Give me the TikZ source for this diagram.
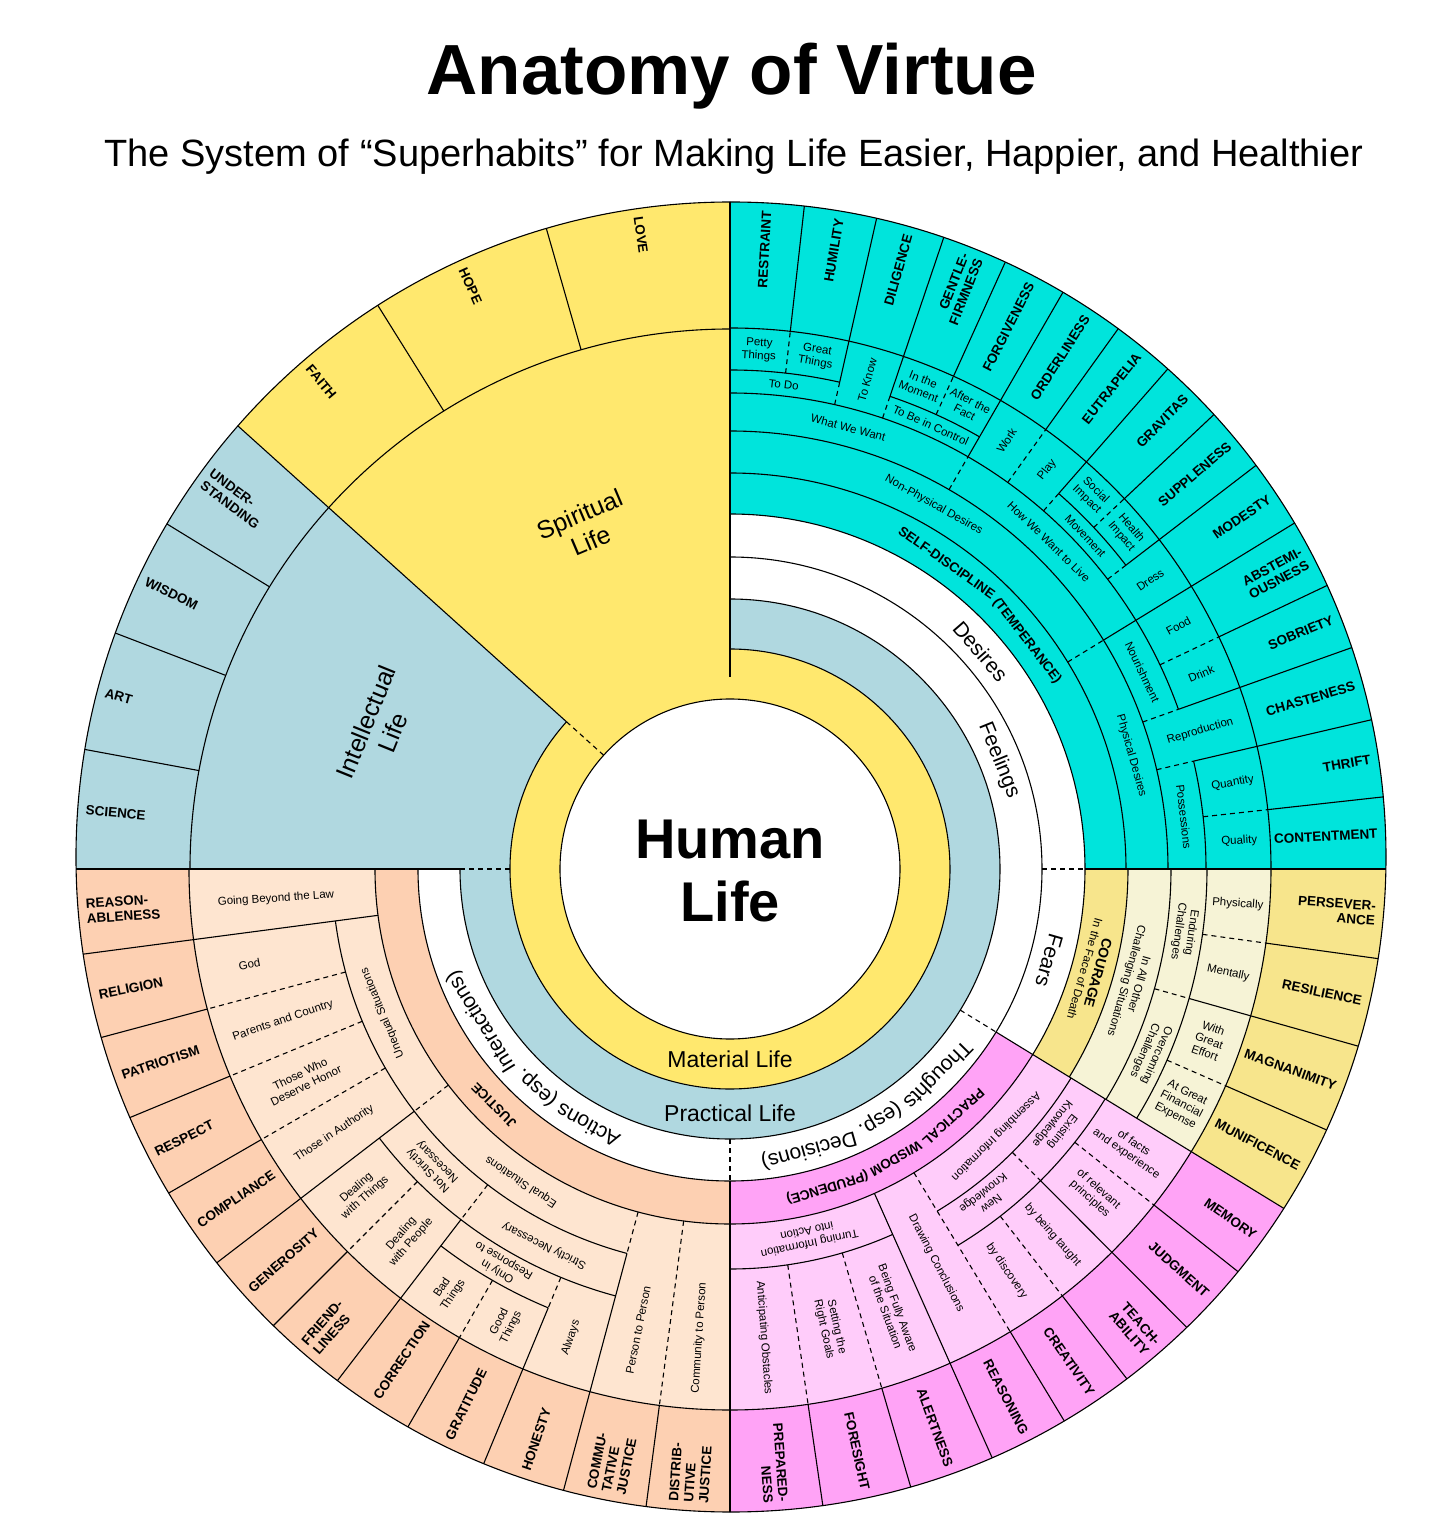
\documentclass[tikz,border=0pt]{standalone}
\usepackage{fontspec}
\setmainfont{Liberation Sans}

\definecolor{tealv}{RGB}{0,228,220}
\definecolor{yelv}{RGB}{255,232,110}
\definecolor{bluev}{RGB}{176,216,224}
\definecolor{courd}{RGB}{247,229,140}
\definecolor{courl}{RGB}{246,243,214}
\definecolor{prud}{RGB}{255,163,246}
\definecolor{prul}{RGB}{255,204,250}
\definecolor{jusd}{RGB}{253,208,178}
\definecolor{jusl}{RGB}{254,229,208}

\tikzset{
  boxline/.style={draw=black, line width=1.1pt},
  sibline/.style={draw=black, line width=1.1pt, dash pattern=on 5pt off 4pt},
  virtlab/.style={font=\bfseries\fontsize{13.5}{15}\selectfont, inner sep=0pt},
  leaflab/.style={font=\fontsize{11.5}{13}\selectfont, align=center, inner sep=0pt},
  ringlab/.style={font=\fontsize{21}{24}\selectfont, inner sep=0pt},
  lifelab/.style={font=\fontsize{25}{29}\selectfont, align=center, inner sep=0pt},
}

% band: style, start angle, end angle, inner radius, outer radius
\newcommand{\band}[5]{%
  \fill[#1] (#2:#4pt) arc[start angle=#2, end angle=#3, radius=#4pt] -- (#3:#5pt) arc[start angle=#3, end angle=#2, radius=#5pt] -- cycle;}
% ringarc: style, start angle, end angle, radius
\newcommand{\ringarc}[4]{%
  \draw[#1] (#2:#4pt) arc[start angle=#2, end angle=#3, radius=#4pt];}
% spoke: style, angle, inner radius, outer radius
\newcommand{\spoke}[4]{%
  \draw[#1] (#2:#3pt) -- (#2:#4pt);}
% radial and tangential labels: style, name, angle, radius, text
\newcommand{\radlab}[5]{%
  \pgfmathsetmacro{\labrot}{(#3>90 || #3<-90) ? #3+180 : #3}%
  \node[#1, rotate=\labrot] (#2) at (#3:#4pt) {#5};}
\newcommand{\tanlab}[5]{%
  \node[#1, rotate=#3-90] (#2) at (#3:#4pt) {#5};}
% outer virtue: name, angle, text
\newcommand{\virt}[3]{%
  \pgfmathsetmacro{\labrot}{(#2>90 || #2<-90) ? #2+180 : #2}%
  \pgfmathsetmacro{\labr}{647+cos(#2)+12*sin(#2)}%
  \pgfmathtruncatemacro{\labside}{(#2>90 || #2<-90) ? 1 : 0}%
  \ifnum\labside=1
    \node[virtlab, rotate=\labrot, anchor=west, align=left] (#1) at (#2:\labr pt) {#3};%
  \else
    \node[virtlab, rotate=\labrot, anchor=east, align=right] (#1) at (#2:\labr pt) {#3};%
  \fi}

\begin{document}
\begin{tikzpicture}[x=1pt,y=1pt]
    \useasboundingbox (-730,-665) rectangle (726,869);
    \fill[white] (-730,-665) rectangle (726,869);

    % Text Node
    \node[font=\bfseries\fontsize{71}{80}\selectfont, anchor=base] (title) at (1.5,774) {Anatomy of Virtue};
    % Text Node
    \node[font=\fontsize{38}{44}\selectfont, anchor=base] (subtitle) at (4,702) {The System of “Superhabits” for Making Life Easier, Happier, and Healthier};

    \begin{scope}
    \clip (1,12) circle[radius=655];
    %Shape: Bands
    \band{yelv}{0}{360}{170}{220}
    \band{yelv}{90}{138}{170}{700}
    \band{bluev}{138}{180}{220}{700}
    \band{bluev}{-180}{90}{220}{270}
    \band{tealv}{0}{90}{355}{700}
    \band{courd}{-31.5}{0}{355}{398}
    \band{courl}{-31.5}{0}{398}{541}
    \band{courd}{-31.5}{0}{541}{700}
    \band{prud}{-90}{-31.5}{312}{355}
    \band{prul}{-90}{-31.5}{355}{541}
    \band{prud}{-90}{-31.5}{541}{700}
    \band{jusd}{-180}{-90}{312}{355}
    \band{jusl}{-180}{-90}{355}{541}
    \band{jusd}{-180}{-90}{541}{700}

    %Straight Lines: main sectors
    \spoke{boxline, line width=2.4pt}{90}{192}{700}
    \spoke{boxline}{138}{220}{700}
    \spoke{sibline}{138}{170}{220}
    \spoke{boxline}{180}{270}{700}
    \spoke{sibline}{180}{220}{270}
    \spoke{boxline}{0}{355}{700}
    \spoke{sibline}{0}{312}{355}
    \spoke{boxline}{-31.5}{312}{700}
    \spoke{sibline}{-31.5}{270}{312}
    \spoke{boxline}{-90}{312}{700}
    \spoke{sibline}{-90}{270}{312}

    %Straight Lines: outer virtues, spiritual and intellectual
    \spoke{boxline}{106}{540}{700}
    \spoke{boxline}{122}{540}{700}
    \spoke{boxline}{148.5}{540}{700}
    \spoke{boxline}{159}{540}{700}
    \spoke{boxline}{169.5}{540}{700}
    %Straight Lines: outer virtues, temperance
    \spoke{boxline}{83.6}{541}{700}
    \spoke{boxline}{77.3}{541}{700}
    \spoke{boxline}{71.3}{541}{700}
    \spoke{boxline}{65.6}{541}{700}
    \spoke{boxline}{60}{541}{700}
    \spoke{boxline}{54.3}{541}{700}
    \spoke{boxline}{48.8}{541}{700}
    \spoke{boxline}{43.2}{541}{700}
    \spoke{boxline}{37.5}{541}{700}
    \spoke{boxline}{31.5}{541}{700}
    \spoke{boxline}{25.4}{541}{700}
    \spoke{boxline}{19.6}{541}{700}
    \spoke{boxline}{13.1}{541}{700}
    \spoke{boxline}{6.3}{541}{700}
    %Straight Lines: outer virtues, courage
    \spoke{boxline}{-7.875}{541}{700}
    \spoke{boxline}{-15.75}{541}{700}
    \spoke{boxline}{-23.625}{541}{700}
    %Straight Lines: outer virtues, prudence
    \spoke{boxline}{-38.4}{541}{700}
    \spoke{boxline}{-45.1}{541}{700}
    \spoke{boxline}{-52.1}{541}{700}
    \spoke{boxline}{-58.8}{541}{700}
    \spoke{boxline}{-66}{541}{700}
    \spoke{boxline}{-73.7}{541}{700}
    \spoke{boxline}{-81.7}{541}{700}
    %Straight Lines: outer virtues, justice
    \spoke{boxline}{-97.5}{541}{700}
    \spoke{boxline}{-105}{541}{700}
    \spoke{boxline}{-112.5}{541}{700}
    \spoke{boxline}{-120}{541}{700}
    \spoke{boxline}{-127.5}{541}{700}
    \spoke{boxline}{-135}{541}{700}
    \spoke{boxline}{-142.5}{541}{700}
    \spoke{boxline}{-150}{541}{700}
    \spoke{boxline}{-157.5}{541}{700}
    \spoke{boxline}{-165}{541}{700}
    \spoke{boxline}{-172.5}{541}{700}
    \end{scope}

    %Shape: Circle
    \draw[boxline] (1,12) circle[radius=655];
    \draw[boxline] (0,0) circle[radius=170pt];
    %Curve Lines: inner rings
    \ringarc{boxline}{138}{450}{220}
    \ringarc{boxline}{-180}{90}{270}
    \ringarc{boxline}{-180}{90}{312}
    \ringarc{boxline}{-180}{90}{355}
    \ringarc{boxline}{90}{180}{540}

    %Curve Lines: temperance
    \ringarc{boxline}{0}{90}{396}
    \ringarc{boxline}{0}{90}{438}
    \ringarc{boxline}{0}{13.1}{476}
    \ringarc{boxline}{19.6}{90}{476}
    \ringarc{boxline}{77.3}{90}{499}
    \ringarc{boxline}{60}{71.3}{499}
    \ringarc{boxline}{37.5}{48.8}{499}
    \ringarc{boxline}{0}{90}{541}
    %Straight Lines: temperance
    \spoke{sibline}{31.5}{396}{438}
    \spoke{boxline}{31.5}{438}{541}
    \spoke{sibline}{60}{438}{476}
    \spoke{boxline}{60}{476}{541}
    \spoke{sibline}{19.6}{438}{476}
    \spoke{boxline}{19.6}{476}{541}
    \spoke{sibline}{13.1}{438}{476}
    \spoke{boxline}{13.1}{476}{541}
    \spoke{sibline}{77.3}{476}{499}
    \spoke{boxline}{77.3}{499}{541}
    \spoke{sibline}{71.3}{476}{499}
    \spoke{boxline}{71.3}{499}{541}
    \spoke{sibline}{54.3}{476}{541}
    \spoke{sibline}{48.8}{476}{499}
    \spoke{boxline}{48.8}{499}{541}
    \spoke{sibline}{37.5}{476}{499}
    \spoke{boxline}{37.5}{499}{541}
    \spoke{sibline}{25.4}{476}{541}
    \spoke{sibline}{6.3}{476}{541}
    \spoke{sibline}{83.6}{499}{541}
    \spoke{sibline}{65.6}{499}{541}
    \spoke{sibline}{43.2}{499}{541}

    %Curve Lines: courage
    \ringarc{boxline}{-31.5}{0}{398}
    \ringarc{boxline}{-31.5}{0}{441}
    \ringarc{boxline}{-31.5}{0}{477}
    \ringarc{boxline}{-31.5}{0}{541}
    %Straight Lines: courage
    \spoke{sibline}{-15.75}{441}{477}
    \spoke{boxline}{-15.75}{477}{541}
    \spoke{sibline}{-7.875}{477}{541}
    \spoke{sibline}{-23.625}{477}{541}

    %Curve Lines: prudence
    \ringarc{boxline}{-58.8}{-31.5}{400}
    \ringarc{boxline}{-58.8}{-31.5}{440}
    \ringarc{boxline}{-90}{-66}{400}
    \ringarc{boxline}{-90}{-31.5}{541}
    %Straight Lines: prudence
    \spoke{sibline}{-38.4}{440}{541}
    \spoke{sibline}{-45.1}{400}{440}
    \spoke{boxline}{-45.1}{440}{541}
    \spoke{sibline}{-52.1}{440}{541}
    \spoke{sibline}{-58.8}{355}{541}
    \spoke{boxline}{-66}{355}{541}
    \spoke{sibline}{-73.7}{400}{541}
    \spoke{sibline}{-81.7}{400}{541}

    %Curve Lines: justice
    \ringarc{boxline}{-172.5}{-105}{398}
    \ringarc{boxline}{-142.5}{-105}{442}
    \ringarc{boxline}{-127.5}{-112.5}{475}
    \ringarc{boxline}{-180}{-90}{541}
    %Straight Lines: justice
    \spoke{sibline}{-97.5}{355}{541}
    \spoke{sibline}{-105}{355}{398}
    \spoke{boxline}{-105}{398}{541}
    \spoke{sibline}{-112.5}{442}{475}
    \spoke{boxline}{-112.5}{475}{541}
    \spoke{sibline}{-120}{475}{541}
    \spoke{sibline}{-127.5}{398}{442}
    \spoke{boxline}{-127.5}{442}{541}
    \spoke{sibline}{-135}{442}{541}
    \spoke{sibline}{-142.5}{355}{398}
    \spoke{boxline}{-142.5}{398}{541}
    \spoke{sibline}{-150}{398}{541}
    \spoke{sibline}{-157.5}{398}{541}
    \spoke{sibline}{-165}{398}{541}
    \spoke{boxline}{-172.5}{355}{541}

    % Text Node: centre and life rings
    \node[font=\bfseries\fontsize{56}{63}\selectfont, align=center, inner sep=0pt] (human) at (0,-2) {Human\\Life};
    \node[font=\fontsize{23}{26}\selectfont, inner sep=0pt] (material) at (0,-190) {Material Life};
    \node[font=\fontsize{23}{26}\selectfont, inner sep=0pt] (practical) at (0,-244) {Practical Life};
    \tanlab{lifelab}{spiritual}{113}{371}{Spiritual\\Life}
    \tanlab{lifelab}{intellectual}{158}{378}{Intellectual\\Life}
    \tanlab{ringlab}{desires}{41}{332}{Desires}
    \tanlab{ringlab}{feelings}{22}{290}{Feelings}
    \tanlab{ringlab}{fears}{-16}{332}{Fears}
    \tanlab{ringlab, anchor=base}{thoughtsw}{-44.7}{286}{Thoughts}
    \tanlab{ringlab, anchor=base}{thoughtsesp}{-59}{286}{(esp.}
    \tanlab{ringlab, anchor=base}{thoughtsdec}{-74.3}{286}{Decisions)}
    \tanlab{ringlab, anchor=base}{actionsw}{-118.96}{286}{Actions}
    \tanlab{ringlab, anchor=base}{actionsesp}{-131.44}{286}{(esp.}
    \tanlab{ringlab, anchor=base}{actionsint}{-148.5}{286}{Interactions)}

    % Text Node: temperance
    \tanlab{virtlab, anchor=base}{selfdisc}{54.7}{370.7}{SELF-DISCIPLINE}
    \tanlab{virtlab, anchor=base}{temperance}{37.5}{370.7}{(TEMPERANCE)}
    \tanlab{leaflab}{nonphys}{60.75}{417}{Non-Physical Desires}
    \tanlab{leaflab}{phys}{15.75}{417}{Physical Desires}
    \tanlab{leaflab}{whatwant}{75}{457}{What We Want}
    \tanlab{leaflab}{howlive}{45.75}{457}{How We Want to Live}
    \tanlab{leaflab}{nourish}{25.55}{457}{Nourishment}
    \radlab{leaflab}{repro}{16.35}{490}{Reproduction}
    \tanlab{leaflab}{possess}{6.55}{457}{Possessions}
    \tanlab{leaflab}{todo}{83.65}{487}{To Do}
    \radlab{leaflab}{toknow}{74.3}{508}{To Know}
    \tanlab{leaflab}{control}{65.65}{487}{To Be in Control}
    \radlab{leaflab}{work}{57.15}{510}{Work}
    \radlab{leaflab}{play}{51.55}{510}{Play}
    \tanlab{leaflab}{movement}{43.15}{487}{Movement}
    \radlab{leaflab}{dress}{34.5}{510}{Dress}
    \radlab{leaflab}{food}{28.45}{510}{Food}
    \radlab{leaflab}{drink}{22.5}{510}{Drink}
    \radlab{leaflab}{quantity}{9.7}{510}{Quantity}
    \radlab{leaflab}{quality}{3.15}{510}{Quality}
    \tanlab{leaflab}{petty}{86.8}{520}{Petty\\Things}
    \tanlab{leaflab}{great}{80.45}{520}{Great\\Things}
    \tanlab{leaflab}{moment}{68.45}{520}{In the\\Moment}
    \tanlab{leaflab}{afterfact}{62.8}{520}{After the\\Fact}
    \tanlab{leaflab}{social}{46}{520}{Social\\Impact}
    \tanlab{leaflab}{health}{40.35}{520}{Health\\Impact}
    \virt{restraint}{86.8}{RESTRAINT}
    \virt{humility}{80.45}{HUMILITY}
    \virt{diligence}{74.3}{DILIGENCE}
    \virt{gentle}{68.45}{GENTLE-\\FIRMNESS}
    \virt{forgive}{62.8}{FORGIVENESS}
    \virt{orderly}{57.15}{ORDERLINESS}
    \virt{eutrap}{51.55}{EUTRAPELIA}
    \virt{gravitas}{46}{GRAVITAS}
    \virt{supple}{40.35}{SUPPLENESS}
    \virt{modesty}{34.5}{MODESTY}
    \virt{abstem}{28.45}{ABSTEMI-\\OUSNESS}
    \virt{sobriety}{22.5}{SOBRIETY}
    \virt{chaste}{16.35}{CHASTENESS}
    \virt{thrift}{9.7}{THRIFT}
    \virt{content}{3.15}{CONTENTMENT}

    % Text Node: courage
    \tanlab{leaflab}{courage}{-15.75}{376}{{\bfseries\fontsize{14}{15}\selectfont COURAGE}\\In the Face of Death}
    \tanlab{leaflab}{allother}{-15.75}{418}{In All Other\\Challenging Situations}
    \tanlab{leaflab}{enduring}{-7.875}{459}{Enduring\\Challenges}
    \tanlab{leaflab}{overcoming}{-23.625}{459}{Overcoming\\Challenges}
    \radlab{leaflab}{physically}{-3.94}{509}{Physically}
    \radlab{leaflab}{mentally}{-11.8}{509}{Mentally}
    \radlab{leaflab}{effort}{-19.7}{509}{With\\Great\\Effort}
    \radlab{leaflab}{expense}{-27.56}{509}{At Great\\Financial\\Expense}
    \virt{persev}{-3.94}{PERSEVER-\\ANCE}
    \virt{resil}{-11.8}{RESILIENCE}
    \virt{magnan}{-19.7}{MAGNANIMITY}
    \virt{munif}{-27.56}{MUNIFICENCE}

    % Text Node: prudence
    \tanlab{virtlab, anchor=base}{practicalw}{-47.95}{329.2}{PRACTICAL}
    \tanlab{virtlab, anchor=base}{wisdomw}{-60.17}{329.2}{WISDOM}
    \tanlab{virtlab, anchor=base}{prudence}{-72.97}{329.2}{(PRUDENCE)}
    \tanlab{leaflab}{assembling}{-45.15}{377}{Assembling Information}
    \tanlab{leaflab}{existing}{-38.3}{417}{Existing\\Knowledge}
    \tanlab{leaflab}{newknow}{-52}{417}{New\\Knowledge}
    \radlab{leaflab}{facts}{-34.95}{488}{of facts\\and experience}
    \radlab{leaflab}{principles}{-41.75}{488}{of relevant\\principles}
    \radlab{leaflab}{taught}{-48.6}{488}{by being taught}
    \radlab{leaflab}{discovery}{-55.45}{488}{by discovery}
    \radlab{leaflab}{drawing}{-62.4}{445}{Drawing Conclusions}
    \tanlab{leaflab}{turning}{-78}{377}{Turning Information\\into Action}
    \radlab{leaflab}{aware}{-69.85}{470}{Being Fully Aware\\of the Situation}
    \radlab{leaflab}{goals}{-77.7}{470}{Setting the\\Right Goals}
    \radlab{leaflab}{obstacles}{-85.85}{470}{Anticipating Obstacles}
    \virt{memory}{-34.95}{MEMORY}
    \virt{judgment}{-41.75}{JUDGMENT}
    \virt{teach}{-48.6}{TEACH-\\ABILITY}
    \virt{creativity}{-55.45}{CREATIVITY}
    \virt{reasoning}{-62.4}{REASONING}
    \virt{alert}{-69.85}{ALERTNESS}
    \virt{foresight}{-77.7}{FORESIGHT}
    \virt{prepared}{-85.85}{PREPARED-\\NESS}

    % Text Node: justice
    \tanlab{virtlab}{justice}{-135}{334}{JUSTICE}
    \tanlab{leaflab}{equal}{-123.75}{376}{Equal Situations}
    \tanlab{leaflab}{unequal}{-157.5}{376}{Unequal Situations}
    \radlab{leaflab}{beyond}{-176.25}{455}{Going Beyond the Law}
    \radlab{leaflab}{commpers}{-93.75}{470}{Community to Person}
    \radlab{leaflab}{perspers}{-101.25}{470}{Person to Person}
    \tanlab{leaflab}{strict}{-116.25}{420}{Strictly Necessary}
    \tanlab{leaflab}{notstrict}{-135}{420}{Not Strictly\\Necessary}
    \radlab{leaflab}{always}{-108.75}{495}{Always}
    \tanlab{leaflab}{onlyresp}{-120}{458}{Only in\\Response to}
    \radlab{leaflab}{goodth}{-116.25}{508}{Good\\Things}
    \radlab{leaflab}{badth}{-123.75}{508}{Bad\\Things}
    \radlab{leaflab}{dealpeople}{-131.25}{491}{Dealing\\with People}
    \radlab{leaflab}{dealthings}{-138.75}{491}{Dealing\\with Things}
    \radlab{leaflab}{authority}{-146.25}{476}{Those in Authority}
    \radlab{leaflab}{honor}{-153.75}{476}{Those Who\\Deserve Honor}
    \radlab{leaflab}{parents}{-161.25}{472}{Parents and Country}
    \radlab{leaflab}{god}{-168.75}{490}{God}
    \virt{distrib}{-93.75}{DISTRIB-\\UTIVE\\JUSTICE}
    \virt{commut}{-101.25}{COMMU-\\TATIVE\\JUSTICE}
    \virt{honesty}{-108.75}{HONESTY}
    \virt{gratitude}{-116.25}{GRATITUDE}
    \virt{correction}{-123.75}{CORRECTION}
    \virt{friendly}{-131.25}{FRIEND-\\LINESS}
    \virt{generosity}{-138.75}{GENEROSITY}
    \virt{compliance}{-146.25}{COMPLIANCE}
    \virt{respect}{-153.75}{RESPECT}
    \virt{patriot}{-161.25}{PATRIOTISM}
    \virt{religion}{-168.75}{RELIGION}
    \virt{reasonable}{-176.25}{REASON-\\ABLENESS}

    % Text Node: intellectual and spiritual
    \virt{understand}{143.25}{UNDER-\\STANDING}
    \virt{wisdom}{153.75}{WISDOM}
    \virt{art}{164.25}{ART}
    \virt{science}{174.75}{SCIENCE}
    \virt{faith}{130}{FAITH}
    \virt{hope}{114}{HOPE}
    \virt{love}{98}{LOVE}
\end{tikzpicture}
\end{document}
